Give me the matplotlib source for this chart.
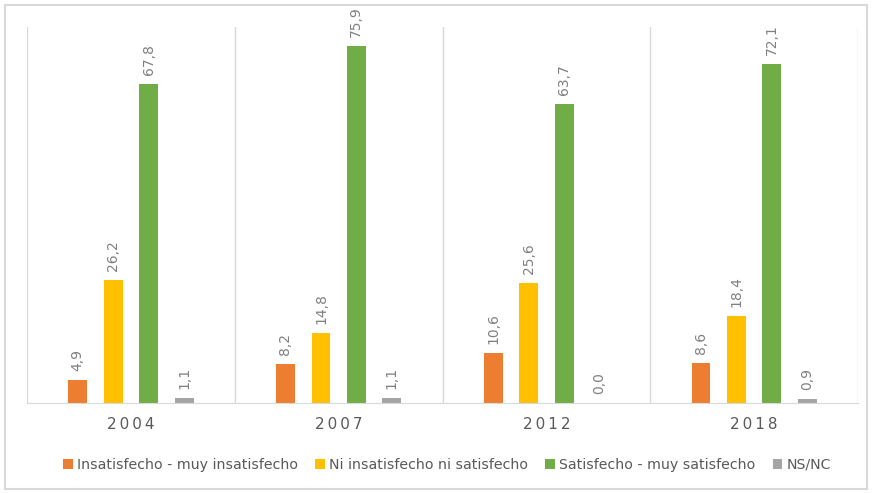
import numpy as np
import matplotlib.pyplot as plt
from matplotlib.patches import Rectangle

# survey results by year (percent)
years = ["2004", "2007", "2012", "2018"]
series = ["Insatisfecho - muy insatisfecho", "Ni insatisfecho ni satisfecho",
          "Satisfecho - muy satisfecho", "NS/NC"]
insatisfecho = [4.9, 8.2, 10.6, 8.6]
ni_ni = [26.2, 14.8, 25.6, 18.4]
satisfecho = [67.8, 75.9, 63.7, 72.1]
ns_nc = [1.1, 1.1, 0.0, 0.9]
colors = ["#ED7D31", "#FFC000", "#70AD47", "#A5A5A5"]

fig = plt.figure(figsize=(8.72, 4.93), dpi=100)
ax = fig.add_axes([0.031, 0.1826, 0.953, 0.7627])

x = np.arange(len(years))
w = 0.091
offsets = [-0.256, -0.085, 0.085, 0.256]
for vals, off, c, name in zip([insatisfecho, ni_ni, satisfecho, ns_nc], offsets, colors, series):
    bars = ax.bar(x + off, vals, w, color=c, label=name)
    for b, v in zip(bars, vals):
        ax.annotate(f"{v:.1f}".replace(".", ","), (b.get_x() + w / 2, v),
                    xytext=(0, 9), textcoords="offset pixels",
                    rotation=90, ha="center", va="bottom", fontsize=10, color="#808080")

ax.set_xlim(-0.5, 3.5)
ax.set_ylim(0, 80)
for xv in np.arange(-0.5, 4, 1):
    ax.axvline(xv, color="#D9D9D9", lw=1)
for s in ["top", "right", "left"]:
    ax.spines[s].set_visible(False)
ax.spines["bottom"].set_color("#D9D9D9")
ax.set_yticks([])
ax.set_xticks(x)
ax.set_xticklabels(["\u2009".join(y) for y in years], fontsize=11, color="#595959")
ax.tick_params(axis="x", length=0, pad=10)

fig.legend(loc="center", bbox_to_anchor=(0.5126, 0.057), ncol=4, frameon=False,
           fontsize=10.2, handlelength=0.7, handleheight=0.7, handletextpad=0.3,
           columnspacing=1.2, labelcolor="#595959")

fig.patches.append(Rectangle((5 / 872, 4 / 493), 862 / 872, 484 / 493, transform=fig.transFigure,
                             fill=False, edgecolor="#D9D9D9", lw=1.5))

fig.savefig("out.png", dpi=100)
